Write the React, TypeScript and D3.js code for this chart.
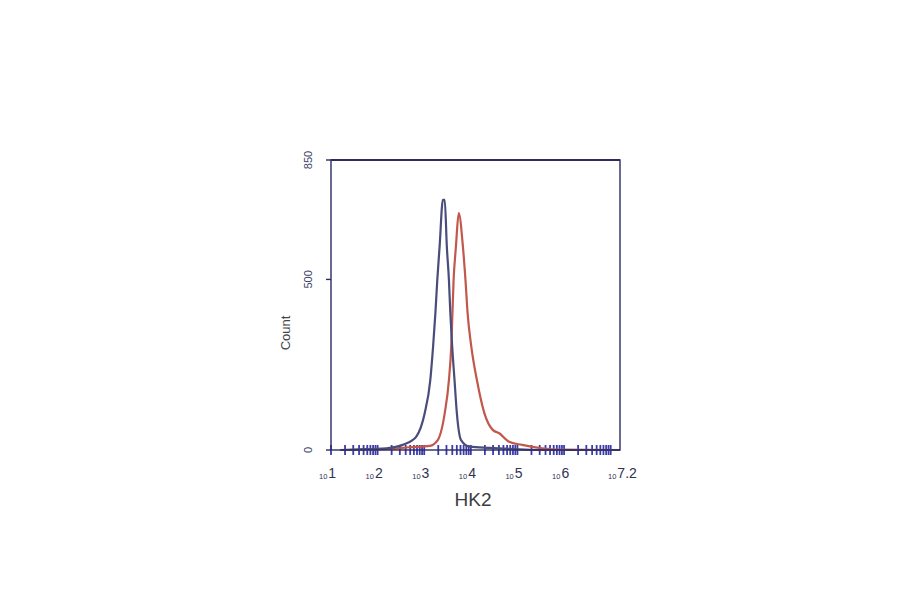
import { useEffect, useRef } from "react";
import * as d3 from "d3";

// log10 of intensity and count
const blueLog = [1.2, 1.6, 1.9, 2.19, 2.54, 2.75, 2.83, 3.01, 3.13, 3.19, 3.24, 3.28, 3.33, 3.4, 3.44, 3.485, 3.53, 3.56, 3.6, 3.65, 3.7, 3.79, 3.97, 4.4, 5.04, 5.5, 7.2];
const blueCount = [0, 2, 3, 5, 15, 29, 39, 108, 205, 303, 402, 498, 596, 733, 733, 596, 498, 402, 303, 205, 108, 29, 10, 6, 2, 0, 0];

const redLog = [1.2, 2.26, 2.69, 3.12, 3.29, 3.44, 3.53, 3.58, 3.63, 3.68, 3.74, 3.83, 3.885, 3.93, 4.01, 4.13, 4.29, 4.47, 4.61, 4.82, 5.1, 5.53, 5.9, 7.2];
const redCount = [0, 3, 8, 12, 29, 108, 205, 303, 498, 596, 694, 596, 498, 402, 303, 205, 108, 59, 49, 24, 15, 5, 1, 0];

const yTicks = [0, 500, 850];
const xDecades = [1, 2, 3, 4, 5, 6];
const xMaxExp = 7.2;

export default function App() {
  const ref = useRef<SVGSVGElement>(null);

  useEffect(() => {
    if (!ref.current) return;
    const svg = d3.select(ref.current);
    svg.selectAll("*").remove();

    const left = 331, right = 620, top = 160, bottom = 450;
    const x = d3.scaleLinear().domain([1, xMaxExp]).range([left, right]);
    const y = d3.scaleLinear().domain([0, 850]).range([bottom, top]);

    const axisCol = "#2b2b62";

    // minor/major log ticks along the baseline
    const ticks: number[] = [];
    for (let k = 1; k <= 7; k++) {
      for (let m = 1; m <= 9; m++) {
        const v = Math.log10(m * Math.pow(10, k));
        if (v <= xMaxExp) ticks.push(v);
      }
    }
    svg.append("g")
      .selectAll("line")
      .data(ticks)
      .enter()
      .append("line")
      .attr("x1", (d) => x(d))
      .attr("x2", (d) => x(d))
      .attr("y1", bottom - 5)
      .attr("y2", bottom + 5)
      .attr("stroke", "#3b3bb0")
      .attr("stroke-width", 1.8);

    const line = d3
      .line<number>()
      .x((d) => x(d))
      .curve(d3.curveMonotoneX);

    svg.append("path")
      .attr("d", line.y((_, i) => y(redCount[i]))(redLog))
      .attr("fill", "none")
      .attr("stroke", "#c2574b")
      .attr("stroke-width", 2.2);

    svg.append("path")
      .attr("d", line.y((_, i) => y(blueCount[i]))(blueLog))
      .attr("fill", "none")
      .attr("stroke", "#4a4c7c")
      .attr("stroke-width", 2.2);

    // frame
    svg.append("rect")
      .attr("x", left)
      .attr("y", top)
      .attr("width", right - left)
      .attr("height", bottom - top)
      .attr("fill", "none")
      .attr("stroke", axisCol)
      .attr("stroke-width", 1.4);
    svg.append("line")
      .attr("x1", left).attr("x2", right)
      .attr("y1", top).attr("y2", top)
      .attr("stroke", axisCol).attr("stroke-width", 2.2);

    // y ticks and labels
    yTicks.forEach((t) => {
      svg.append("line")
        .attr("x1", left - 5).attr("x2", left)
        .attr("y1", y(t)).attr("y2", y(t))
        .attr("stroke", axisCol).attr("stroke-width", 1.4);
      svg.append("text")
        .attr("transform", `translate(312,${y(t)}) rotate(-90)`)
        .attr("text-anchor", "middle")
        .attr("font-family", "Arial, Liberation Sans, sans-serif")
        .attr("font-size", 11)
        .attr("fill", "#3a3f66")
        .text(String(t));
    });

    // x labels: small "10" plus raised exponent
    const xLabels = [...xDecades.map(String), "7.2"];
    const xVals = [...xDecades, xMaxExp];
    xLabels.forEach((lab, i) => {
      const t = svg.append("text")
        .attr("x", x(xVals[i]) + 1)
        .attr("y", 479)
        .attr("text-anchor", "start")
        .attr("font-family", "Arial, Liberation Sans, sans-serif")
        .attr("fill", "#2f3350");
      t.append("tspan")
        .attr("font-size", 7.5)
        .attr("dx", -13)
        .text("10");
      t.append("tspan")
        .attr("font-size", 14)
        .attr("dx", 1)
        .attr("dy", -1)
        .text(lab);
    });

    svg.append("text")
      .attr("transform", `translate(290,333) rotate(-90)`)
      .attr("text-anchor", "middle")
      .attr("font-family", "Arial, Liberation Sans, sans-serif")
      .attr("font-size", 13)
      .attr("fill", "#444")
      .text("Count");

    svg.append("text")
      .attr("x", 473)
      .attr("y", 506)
      .attr("text-anchor", "middle")
      .attr("font-family", "Arial, Liberation Sans, sans-serif")
      .attr("font-size", 19)
      .attr("fill", "#3d3d3d")
      .text("HK2");
  }, []);

  return (
    <svg
      ref={ref}
      width={900}
      height={594}
      viewBox="0 0 900 594"
      style={{ position: "absolute", left: 0, top: 0, background: "#fff" }}
    />
  );
}
